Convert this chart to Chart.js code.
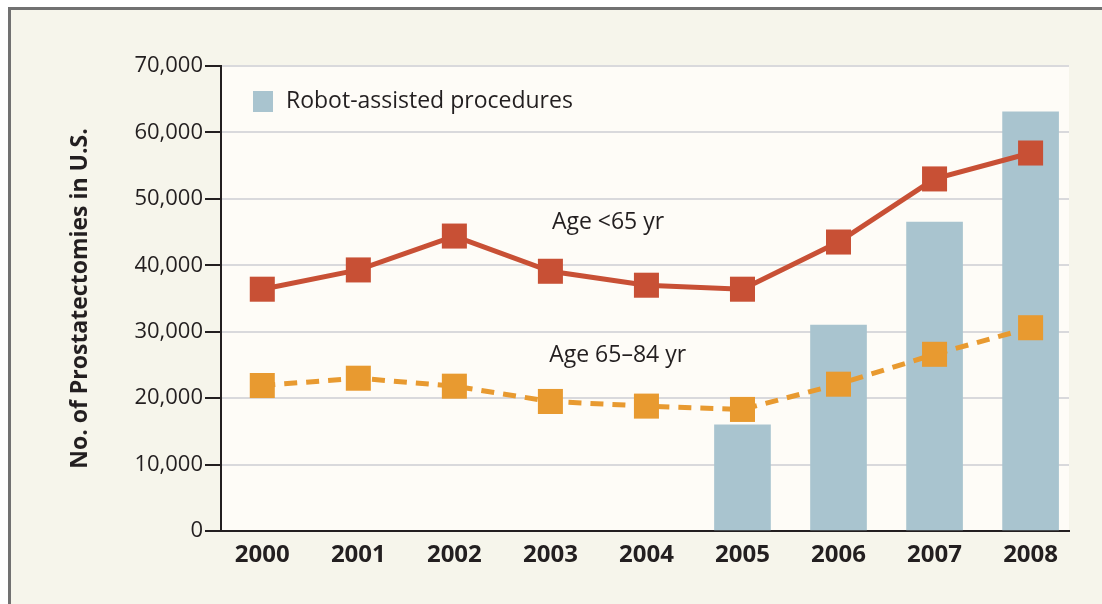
<!DOCTYPE html>
<html>
<head>
<meta charset="utf-8">
<script src="https://cdn.jsdelivr.net/npm/chart.js@4.4.1/dist/chart.umd.min.js"></script>
<style>
  html, body { margin: 0; padding: 0; background: #fff; }
  #wrap { width: 1102px; height: 604px; position: relative; }
</style>
</head>
<body>
<div id="wrap"><canvas id="prostChart" width="1102" height="604"></canvas></div>
<script>
// values
const years = ['2000', '2001', '2002', '2003', '2004', '2005', '2006', '2007', '2008'];
const under65 = [36400, 39300, 44400, 39100, 37000, 36400, 43500, 53000, 56900];
const age65to84 = [21900, 23000, 21800, 19500, 18800, 18300, 22100, 26600, 30600];
const robot = [null, null, null, null, null, 16000, 31000, 46500, 63100];
const yTicks = [0, 10000, 20000, 30000, 40000, 50000, 60000, 70000];

const FONT = '"Open Sans", "Noto Sans", sans-serif';

let toPoints = (arr) => arr.map((v, i) => ({ x: i, y: v })).filter(p => p.y !== null);

// background, frame, plot area, legend and the two series notes
const decor = {
  id: 'decor',
  beforeDraw(chart) {
    const c = chart.ctx;
    const a = chart.chartArea;
    c.save();
    c.fillStyle = '#ffffff';
    c.fillRect(0, 0, chart.width, chart.height);
    c.fillStyle = '#f6f5eb';
    c.fillRect(8, 7, chart.width - 8, chart.height - 7);
    c.fillStyle = '#717171';
    c.fillRect(8, 7, chart.width - 8, 3);
    c.fillRect(8, 7, 3, chart.height - 7);
    c.fillStyle = '#fefcf7';
    c.fillRect(a.left, a.top, a.right - a.left, a.bottom - a.top);
    c.restore();
  },
  afterDraw(chart) {
    const c = chart.ctx;
    const a = chart.chartArea;
    const xs = chart.scales.x, ys = chart.scales.y;
    c.save();
    // legend
    const ds = chart.data.datasets.find(d => d.type === 'bar');
    c.fillStyle = ds.backgroundColor;
    c.fillRect(a.left + 32, a.top + 25, 20, 21);
    c.fillStyle = '#231f20';
    c.font = '23px ' + FONT;
    c.textBaseline = 'middle';
    c.textAlign = 'left';
    c.fillText(ds.label, a.left + 65, a.top + 35);
    // series notes
    c.textAlign = 'center';
    c.fillText('Age <65 yr', xs.getPixelForValue(3.6), ys.getPixelForValue(46500));
    c.fillText('Age 65\u201384 yr', xs.getPixelForValue(3.7), ys.getPixelForValue(26500));
    c.restore();
  }
};

new Chart(document.getElementById('prostChart').getContext('2d'), {
  data: {
    datasets: [{
      type: 'line',
      label: 'Age <65 yr',
      data: toPoints(under65),
      borderColor: '#c85035',
      backgroundColor: '#c85035',
      borderWidth: 5,
      pointStyle: 'rect',
      pointRadius: 17.7,
      pointBorderWidth: 0,
      order: 1
    }, {
      type: 'line',
      label: 'Age 65\u201384 yr',
      data: toPoints(age65to84),
      borderColor: '#e89a30',
      backgroundColor: '#e89a30',
      borderWidth: 5,
      borderDash: [13, 9],
      pointStyle: 'rect',
      pointRadius: 17.7,
      pointBorderWidth: 0,
      order: 2
    }, {
      type: 'bar',
      label: 'Robot-assisted procedures',
      data: toPoints(robot),
      backgroundColor: '#a9c4cf',
      barThickness: 56,
      order: 3
    }]
  },
  options: {
    responsive: false,
    animation: false,
    events: [],
    layout: { padding: { left: 56, right: 33, top: 66, bottom: 23 } },
    plugins: { legend: { display: false }, tooltip: { enabled: false } },
    scales: {
      x: {
        type: 'linear',
        offset: false,
        min: -0.43,
        max: 8.4,
        afterBuildTicks: (s) => { s.ticks = years.map((y, i) => ({ value: i })); },
        afterFit: (s) => { s.height = 50; },
        grid: { display: false, drawTicks: false, offset: false },
        border: { display: true, color: '#231f20', width: 2 },
        ticks: {
          padding: 10,
          color: '#231f20',
          font: { family: FONT, size: 24, weight: 'bold' },
          callback: (v) => years[v]
        }
      },
      y: {
        min: 0,
        max: 70000,
        afterBuildTicks: (s) => { s.ticks = yTicks.map(v => ({ value: v })); },
        afterFit: (s) => { s.width = 165; },
        grid: { color: '#d9d9dc', lineWidth: 2, tickColor: '#231f20', tickLength: 16, tickWidth: 2 },
        border: { display: true, color: '#231f20', width: 2 },
        ticks: {
          padding: 2,
          color: '#231f20',
          font: { family: FONT, size: 22 },
          callback: (v) => v.toLocaleString('en-US')
        },
        title: {
          display: true,
          text: 'No. of Prostatectomies in U.S.',
          color: '#231f20',
          font: { family: FONT, size: 23, weight: 'bold' },
          padding: { top: 11, bottom: 0 }
        }
      }
    }
  },
  plugins: [decor]
});
</script>
</body>
</html>
